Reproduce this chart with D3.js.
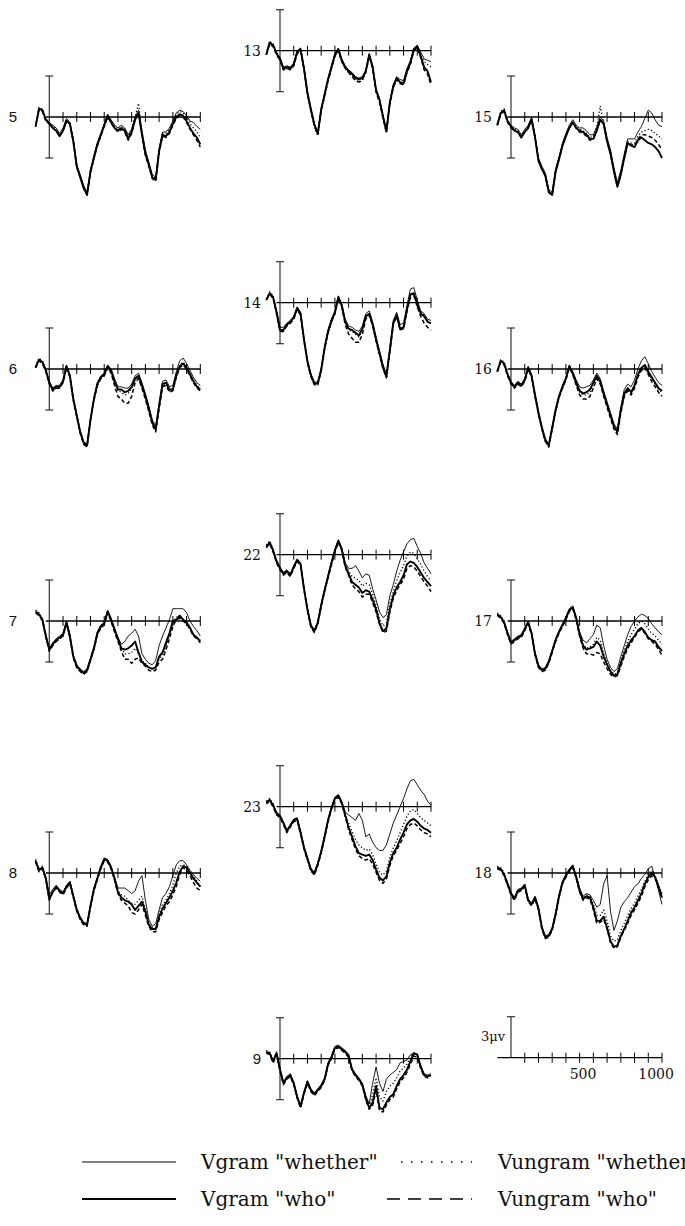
<!DOCTYPE html>
<html><head><meta charset="utf-8">
<script src="https://cdn.jsdelivr.net/npm/d3@7"></script>
<style>body{margin:0;background:#fff}svg{display:block}</style>
</head><body>
<svg id="c" width="685" height="1226"></svg>
<script>
// sample times (ms)
const times = [-100,-75,-50,-25,0,25,50,75,100,125,150,175,200,225,250,275,300,325,350,375,400,425,450,475,500,525,550,575,600,625,650,675,700,725,750,775,800,825,850,875,900,925,950,975,1000,1025,1050,1075,1100];
const xTicks = [100,200,300,400,500,600,700,800,900,1000,1100];
const scaleLabels = [500, 1000];
const seriesNames = ['Vgram "whether"','Vgram "who"','Vungram "whether"','Vungram "who"'];
// values in microvolts, negative plotted up (gw = Vgram whether, go = Vgram who, uw = Vungram whether, uo = Vungram who)
const e5_gw=[0.7,-0.6,-0.5,0.2,0.4,0.6,0.8,1.2,0.8,0.1,0.4,1.6,3.5,4.2,5.0,5.5,3.9,2.8,1.9,1.2,0.5,-0.2,0.2,0.6,0.8,0.6,0.8,1.3,0.9,0.0,-0.5,1.0,2.4,3.3,4.2,4.4,2.3,1.1,1.1,0.8,0.3,-0.3,-0.5,-0.4,-0.1,0.3,0.4,0.7,0.9];
const e5_go=[0.7,-0.6,-0.5,0.2,0.5,0.8,1.0,1.4,1.0,0.3,0.5,1.8,3.6,4.4,5.2,5.7,4.0,3.0,2.0,1.3,0.6,-0.1,0.4,0.8,1.0,0.8,1.0,1.6,1.1,0.2,-0.3,1.3,2.7,3.5,4.4,4.6,2.5,1.3,1.4,1.1,0.5,0.0,-0.2,-0.1,0.3,0.8,1.2,1.5,2.0];
const e5_uw=[0.6,-0.7,-0.6,0.1,0.4,0.7,0.9,1.3,0.9,0.2,0.4,1.7,3.6,4.3,5.1,5.6,3.8,2.9,2.1,1.4,0.7,0.0,0.3,0.6,0.9,0.7,0.9,1.4,0.9,0.0,-1.0,1.1,2.5,3.4,4.3,4.5,2.4,1.2,1.2,0.9,0.4,-0.2,-0.4,-0.3,0.0,0.5,0.8,1.1,1.5];
const e5_uo=[0.7,-0.5,-0.4,0.3,0.5,0.8,1.0,1.4,1.0,0.3,0.5,1.8,3.7,4.4,5.2,5.7,4.1,3.0,2.1,1.4,0.7,0.0,0.4,0.8,1.1,0.9,1.1,1.7,1.2,0.2,-0.3,1.3,2.8,3.6,4.5,4.7,2.6,1.4,1.5,1.2,0.6,0.1,-0.1,0.0,0.4,0.9,1.3,1.7,2.2];

const e13_gw=[0.3,-0.6,-0.4,0.2,0.5,1.2,1.1,1.2,0.9,0.0,-0.2,1.2,3.0,4.2,5.3,6.0,4.2,3.1,2.0,1.1,0.2,-0.2,0.6,1.1,1.4,1.6,1.9,2.0,1.9,1.4,0.2,1.1,2.8,3.5,4.7,5.8,3.7,2.5,1.9,2.1,2.2,1.3,0.7,-0.2,-0.4,0.1,0.6,0.7,0.8];
const e13_go=[0.3,-0.6,-0.4,0.2,0.6,1.3,1.2,1.3,1.0,0.1,-0.1,1.3,3.1,4.3,5.4,6.1,4.3,3.2,2.1,1.2,0.3,-0.1,0.7,1.2,1.5,1.7,2.0,2.1,2.0,1.5,0.3,1.2,2.9,3.6,4.8,5.9,3.8,2.6,2.0,2.3,2.4,1.5,0.9,-0.1,-0.3,0.4,1.2,1.5,2.3];
const e13_uw=[0.2,-0.7,-0.5,0.1,0.6,1.4,1.3,1.4,1.1,0.2,0.0,1.4,3.2,4.4,5.5,6.2,4.4,3.3,2.2,1.3,0.4,0.0,0.8,1.3,1.6,1.8,2.1,2.3,2.2,1.6,0.4,1.3,3.0,3.7,4.9,6.0,3.9,2.7,2.1,2.4,2.3,1.4,0.8,-0.1,-0.2,0.3,0.8,1.0,1.2];
const e13_uo=[0.3,-0.5,-0.3,0.3,0.7,1.4,1.3,1.4,1.1,0.2,0.0,1.4,3.2,4.4,5.5,6.1,4.4,3.3,2.2,1.3,0.4,0.0,0.8,1.3,1.6,1.9,2.2,2.3,2.1,1.6,0.4,1.3,3.0,3.8,4.9,6.0,3.9,2.7,2.1,2.4,2.5,1.6,1.0,0.0,-0.2,0.5,1.4,1.7,2.5];

const e15_gw=[0.6,-0.3,-0.5,0.3,0.6,0.8,0.9,1.3,0.9,0.6,0.0,1.3,3.0,3.6,4.1,5.3,5.5,3.8,2.9,1.9,1.2,0.6,0.2,0.6,0.8,0.8,1.0,1.3,1.3,0.7,0.0,0.3,1.5,2.4,3.7,4.8,3.9,2.7,1.6,1.6,1.6,1.1,0.7,0.1,-0.5,-0.3,0.2,0.6,0.7];
const e15_go=[0.6,-0.3,-0.5,0.3,0.7,1.0,1.1,1.5,1.1,0.8,0.2,1.5,3.2,3.8,4.3,5.5,5.7,4.0,3.1,2.1,1.4,0.8,0.4,0.8,1.0,1.1,1.3,1.6,1.6,1.0,0.2,0.5,1.8,2.7,4.0,5.1,4.2,3.0,1.9,2.1,2.2,1.7,1.5,1.7,1.9,2.0,2.2,2.5,3.0];
const e15_uw=[0.5,-0.4,-0.6,0.2,0.7,0.9,1.0,1.4,1.0,0.7,0.1,1.4,3.1,3.7,4.2,5.4,5.6,3.9,3.0,2.0,1.3,0.7,0.3,0.7,0.9,1.0,1.2,1.5,1.4,0.8,-0.8,0.4,1.7,2.6,3.9,5.0,4.1,2.9,1.8,1.9,1.9,1.4,1.1,1.0,0.9,1.0,1.2,1.4,1.6];
const e15_uo=[0.6,-0.2,-0.4,0.4,0.8,1.0,1.1,1.5,1.1,0.8,0.2,1.5,3.2,3.8,4.3,5.5,5.7,4.0,3.1,2.1,1.4,0.8,0.4,0.8,1.1,1.2,1.4,1.7,1.6,1.0,0.2,0.5,1.8,2.7,4.0,5.1,4.2,3.0,1.9,2.0,2.1,1.6,1.3,1.3,1.4,1.5,1.7,2.0,2.4];

const e6_gw=[-0.1,-0.7,-0.5,0.1,0.9,1.4,1.2,1.2,0.8,-0.3,0.4,2.1,3.3,4.5,5.3,5.5,3.6,2.1,1.0,0.5,0.3,-0.3,0.0,0.7,1.3,1.3,1.4,1.4,1.1,0.5,0.3,1.0,1.8,2.7,3.7,4.2,2.5,0.9,0.8,1.3,1.2,0.2,-0.6,-0.8,-0.4,0.1,0.6,1.0,1.2];
const e6_go=[-0.1,-0.7,-0.5,0.1,1.0,1.5,1.3,1.3,0.9,-0.2,0.5,2.2,3.4,4.6,5.4,5.6,3.7,2.2,1.1,0.6,0.4,-0.2,0.1,0.9,1.5,1.5,1.7,1.6,1.3,0.7,0.5,1.2,2.0,2.9,3.9,4.4,2.7,1.1,1.0,1.5,1.5,0.5,-0.2,-0.4,-0.1,0.4,0.9,1.3,1.5];
const e6_uw=[-0.2,-0.8,-0.6,0.0,1.0,1.6,1.4,1.4,1.0,-0.1,0.6,2.3,3.5,4.7,5.5,5.7,3.8,2.3,1.2,0.7,0.5,-0.1,0.2,1.0,1.6,1.7,1.9,1.8,1.4,0.8,0.6,1.3,2.1,3.0,4.0,4.5,2.8,1.2,1.1,1.6,1.4,0.4,-0.3,-0.5,-0.2,0.3,0.8,1.2,1.4];
const e6_uo=[-0.1,-0.6,-0.4,0.2,1.1,1.6,1.4,1.4,1.0,-0.1,0.6,2.3,3.5,4.7,5.5,5.7,3.8,2.3,1.2,0.7,0.5,-0.1,0.3,1.2,2.0,2.2,2.5,2.5,2.0,1.0,0.7,1.4,2.2,3.1,4.1,4.6,2.9,1.3,1.2,1.7,1.6,0.6,-0.1,-0.3,0.0,0.5,1.0,1.4,1.6];

const e14_gw=[-0.2,-0.7,-0.4,0.6,1.8,1.8,1.5,1.3,1.0,0.3,0.7,2.6,4.2,5.2,5.8,5.8,4.8,3.2,2.0,1.2,0.6,-0.5,0.1,1.2,1.7,1.8,2.0,2.1,1.7,0.8,0.6,1.4,2.5,3.5,4.5,5.2,3.3,1.3,0.7,1.6,1.5,0.2,-1.0,-1.1,-0.2,0.6,0.8,1.2,1.3];
const e14_go=[-0.2,-0.7,-0.4,0.7,2.0,2.0,1.6,1.4,1.1,0.4,0.8,2.7,4.3,5.3,5.9,5.9,4.9,3.3,2.1,1.3,0.7,-0.4,0.2,1.4,1.9,2.0,2.2,2.4,1.9,1.0,0.8,1.6,2.7,3.7,4.7,5.4,3.5,1.5,0.9,1.9,1.8,0.5,-0.6,-0.7,0.1,0.8,1.0,1.4,1.5];
const e14_uw=[-0.3,-0.8,-0.5,0.7,2.0,2.1,1.7,1.5,1.2,0.5,0.9,2.8,4.4,5.4,6.0,6.0,5.0,3.4,2.2,1.4,0.8,-0.3,0.3,1.4,2.0,2.1,2.3,2.5,2.0,1.1,0.9,1.7,2.8,3.8,4.8,5.5,3.6,1.6,1.0,2.0,1.9,0.6,-0.5,-0.6,0.2,0.7,0.9,1.3,1.6];
const e14_uo=[-0.2,-0.6,-0.3,0.8,2.1,2.1,1.7,1.5,1.2,0.5,0.9,2.8,4.4,5.4,6.0,6.0,5.0,3.4,2.2,1.4,0.8,-0.3,0.3,1.6,2.3,2.6,2.9,2.9,2.3,1.2,0.9,1.7,2.8,3.8,4.8,5.5,3.6,1.6,1.0,2.0,1.9,0.6,-0.4,-0.5,0.3,1.0,1.5,1.8,2.0];

const e16_gw=[0.2,-0.6,-0.4,0.4,0.9,1.2,0.9,1.1,0.7,-0.2,0.4,1.8,3.1,4.2,5.1,5.5,4.2,2.9,1.9,1.2,0.6,-0.3,0.2,0.8,1.3,1.4,1.3,1.2,0.8,0.3,0.7,1.6,2.4,3.2,4.0,4.4,2.8,1.5,1.1,1.3,0.8,0.0,-0.6,-0.9,-0.4,0.2,0.6,1.0,1.2];
const e16_go=[0.2,-0.6,-0.4,0.4,1.0,1.3,1.0,1.2,0.8,-0.1,0.5,1.9,3.2,4.3,5.2,5.6,4.3,3.0,2.0,1.3,0.7,-0.2,0.3,1.0,1.6,1.8,1.7,1.5,1.0,0.5,0.9,1.8,2.6,3.4,4.2,4.6,3.0,1.8,1.4,1.7,1.2,0.4,-0.1,-0.3,0.2,0.6,1.0,1.4,1.6];
const e16_uw=[0.1,-0.7,-0.5,0.3,1.0,1.4,1.1,1.3,0.9,0.0,0.6,2.0,3.3,4.4,5.3,5.7,4.4,3.1,2.1,1.4,0.8,-0.1,0.4,1.1,1.7,1.9,1.9,1.7,1.1,0.6,1.0,1.9,2.7,3.5,4.3,4.7,3.1,1.9,1.5,1.8,1.3,0.5,0.0,-0.2,0.3,0.7,1.1,1.5,1.7];
const e16_uo=[0.2,-0.5,-0.3,0.5,1.1,1.4,1.1,1.3,0.9,0.0,0.6,2.0,3.3,4.4,5.3,5.7,4.4,3.1,2.1,1.4,0.8,-0.1,0.4,1.2,1.9,2.2,2.2,2.0,1.4,0.7,1.1,2.0,2.8,3.6,4.4,4.8,3.2,2.0,1.6,1.9,1.4,0.6,0.1,-0.1,0.4,0.9,1.3,1.7,2.0];

const e7_gw=[-0.7,-0.5,-0.1,1.0,2.0,1.6,1.3,1.1,0.9,0.0,1.0,2.5,3.2,3.5,3.7,3.5,2.7,1.9,0.8,0.3,0.1,-0.8,-0.2,0.5,1.2,1.7,1.5,1.1,0.9,0.6,1.1,2.4,2.8,3.1,3.2,2.9,1.8,1.1,0.5,-0.1,-0.9,-0.9,-0.9,-0.9,-0.6,0.0,0.4,0.7,1.1];
const e7_go=[-0.7,-0.5,-0.1,1.1,2.1,1.7,1.4,1.2,1.0,0.1,1.1,2.6,3.3,3.6,3.8,3.6,2.8,2.0,0.9,0.4,0.2,-0.7,-0.1,0.6,1.3,2.0,2.1,2.0,1.8,1.5,2.3,3.0,3.2,3.4,3.5,3.4,2.6,2.3,1.6,0.9,0.0,-0.1,-0.4,-0.1,0.1,0.5,1.0,1.2,1.5];
const e7_uw=[-0.8,-0.6,-0.2,1.1,2.2,1.8,1.5,1.3,1.1,0.2,1.2,2.7,3.4,3.7,3.9,3.7,2.9,2.1,1.0,0.5,0.3,-0.6,0.0,0.7,1.4,2.0,2.4,2.4,2.3,2.0,2.4,2.9,3.1,3.4,3.5,3.4,2.8,2.5,1.8,1.1,0.2,-0.3,-0.3,-0.1,0.2,0.5,1.0,1.2,1.4];
const e7_uo=[-0.6,-0.4,0.0,1.2,2.2,1.8,1.5,1.3,1.1,0.2,1.2,2.7,3.4,3.7,3.9,3.7,2.9,2.1,1.0,0.5,0.3,-0.6,0.0,0.8,1.5,2.2,2.8,2.8,3.1,2.8,2.7,3.1,3.3,3.6,3.7,3.6,3.0,2.8,2.1,1.3,0.4,-0.1,-0.2,0.0,0.2,0.6,1.1,1.3,1.6];

const e22_gw=[-0.6,-0.9,-0.3,0.4,0.9,1.3,1.1,1.4,0.8,0.3,0.6,2.4,3.9,5.1,5.5,4.9,3.6,2.5,1.5,0.5,-0.4,-1.1,-0.5,0.6,1.0,1.0,0.8,1.2,1.7,1.4,1.5,2.5,3.3,4.2,4.6,4.4,3.0,2.2,1.2,0.4,-0.2,-0.8,-1.1,-1.2,-0.6,-0.1,0.6,1.0,1.4];
const e22_go=[-0.6,-0.9,-0.3,0.5,1.0,1.4,1.2,1.5,0.9,0.4,0.7,2.5,4.0,5.2,5.6,5.0,3.7,2.6,1.6,0.6,-0.3,-1.0,-0.4,0.8,1.4,2.0,2.2,2.4,2.8,2.6,2.7,3.3,4.0,5.0,5.6,5.4,4.0,3.0,2.4,2.0,1.5,0.7,0.5,0.6,0.9,1.3,1.7,2.0,2.3];
const e22_uw=[-0.7,-1.0,-0.4,0.5,1.0,1.4,1.2,1.5,0.9,0.4,0.7,2.5,4.0,5.2,5.6,5.0,3.7,2.6,1.6,0.6,-0.3,-1.0,-0.4,0.7,1.2,1.6,1.7,1.9,2.3,2.1,2.2,2.9,3.7,4.7,5.2,5.0,3.6,2.7,1.9,1.3,0.8,0.1,-0.2,-0.1,0.3,0.7,1.2,1.6,1.9];
const e22_uo=[-0.5,-0.8,-0.2,0.6,1.1,1.5,1.3,1.6,1.0,0.5,0.8,2.6,4.1,5.3,5.7,5.1,3.8,2.7,1.7,0.7,-0.2,-0.9,-0.3,0.9,1.5,2.2,2.5,2.7,3.1,2.9,2.9,3.5,4.2,5.1,5.7,5.6,4.2,3.2,2.6,2.2,1.8,1.0,0.8,0.9,1.2,1.6,2.0,2.3,2.7];

const e17_gw=[-0.5,-0.3,0.1,0.8,1.5,1.3,1.1,1.0,0.5,0.0,0.8,2.3,3.2,3.5,3.4,2.9,2.1,1.3,0.7,0.2,-0.3,-0.9,-1.1,-0.3,0.8,1.4,1.6,1.3,1.0,0.3,0.5,1.8,2.8,3.4,3.7,3.5,2.6,1.8,1.0,0.4,0.0,-0.3,-0.5,-0.4,-0.2,0.2,0.5,0.8,1.0];
const e17_go=[-0.5,-0.3,0.1,0.9,1.6,1.4,1.2,1.1,0.6,0.1,0.9,2.4,3.3,3.6,3.5,3.0,2.2,1.4,0.8,0.3,-0.2,-0.8,-1.0,-0.2,1.0,1.8,2.1,2.0,1.9,1.5,1.8,2.6,3.2,3.7,4.0,3.9,3.1,2.4,1.8,1.4,1.1,0.7,0.5,0.8,1.2,1.4,1.5,1.9,2.2];
const e17_uw=[-0.6,-0.4,0.0,0.9,1.6,1.4,1.2,1.1,0.6,0.1,0.9,2.4,3.3,3.6,3.5,3.0,2.2,1.4,0.8,0.3,-0.2,-0.8,-1.0,-0.2,0.9,1.7,2.0,1.9,1.7,1.2,1.4,2.4,3.1,3.6,3.9,3.8,2.9,2.1,1.5,1.0,0.6,0.2,0.0,0.2,0.6,0.9,1.1,1.4,1.7];
const e17_uo=[-0.4,-0.2,0.2,1.0,1.7,1.5,1.3,1.2,0.7,0.2,1.0,2.5,3.4,3.7,3.6,3.1,2.3,1.5,0.9,0.4,-0.1,-0.7,-0.9,-0.1,1.1,2.0,2.4,2.4,2.5,2.3,2.4,3.0,3.5,3.9,4.1,4.0,3.3,2.6,2.0,1.6,1.2,0.8,0.6,0.9,1.3,1.5,1.7,2.1,2.5];

const e8_gw=[-0.9,-0.2,-0.4,0.3,1.6,1.2,0.9,1.2,1.4,0.9,0.6,1.6,2.6,3.2,3.6,3.7,2.3,1.1,0.3,-0.5,-1.1,-1.0,-0.5,0.3,1.1,1.1,1.1,1.3,1.5,1.3,0.6,0.2,2.0,3.4,3.9,3.7,2.7,1.8,1.5,1.0,0.2,-0.6,-0.9,-0.9,-0.6,-0.2,0.1,0.4,0.6];
const e8_go=[-0.9,-0.2,-0.4,0.4,1.9,1.4,1.0,1.3,1.5,1.0,0.7,1.7,2.7,3.3,3.7,3.8,2.4,1.2,0.4,-0.4,-1.0,-0.9,-0.4,0.4,1.4,1.8,2.0,2.1,2.3,2.7,2.4,2.1,2.8,3.8,4.1,4.1,3.2,2.6,2.2,1.8,1.3,0.7,-0.1,-0.5,-0.4,0.0,0.4,0.7,1.0];
const e8_uw=[-1.0,-0.3,-0.5,0.4,1.8,1.3,1.0,1.3,1.5,1.0,0.7,1.7,2.7,3.3,3.7,3.8,2.4,1.2,0.4,-0.4,-1.0,-0.9,-0.4,0.4,1.3,1.6,1.7,2.0,2.2,2.3,2.0,1.7,2.7,3.7,4.0,4.0,3.0,2.3,2.0,1.5,0.9,0.0,-0.5,-0.6,-0.5,-0.1,0.2,0.6,1.0];
const e8_uo=[-0.8,-0.1,-0.3,0.5,2.0,1.4,1.1,1.4,1.6,1.1,0.8,1.8,2.8,3.4,3.8,3.9,2.5,1.3,0.5,-0.3,-0.9,-0.8,-0.3,0.5,1.5,2.0,2.2,2.4,2.9,3.0,2.7,2.3,3.1,3.9,4.3,4.3,3.4,2.9,2.4,2.1,1.6,1.0,0.1,-0.4,-0.2,0.2,0.7,1.1,1.3];

const e23_gw=[-0.3,-0.5,-0.1,0.4,0.6,1.1,1.7,1.3,0.9,0.8,1.8,2.9,3.7,4.5,4.8,4.1,3.2,2.1,0.9,0.0,-0.7,-0.9,-0.4,0.4,0.6,0.8,1.0,0.5,1.0,2.2,2.0,2.6,3.0,3.2,3.2,2.8,2.0,1.2,0.6,0.0,-0.6,-1.3,-1.9,-2.0,-1.6,-1.2,-0.9,-0.4,-0.1];
const e23_go=[-0.3,-0.5,-0.1,0.5,0.7,1.2,1.8,1.4,1.0,0.9,1.9,3.0,3.8,4.6,4.9,4.2,3.3,2.2,1.0,0.1,-0.6,-0.8,-0.3,0.6,1.5,2.2,2.9,3.4,3.5,3.6,3.5,3.9,4.6,5.2,5.4,5.1,4.1,3.4,3.0,2.4,1.9,1.3,1.0,0.9,1.1,1.4,1.6,1.7,1.9];
const e23_uw=[-0.4,-0.6,-0.2,0.5,0.7,1.2,1.8,1.4,1.0,0.9,1.9,3.0,3.8,4.6,4.9,4.2,3.3,2.2,1.0,0.1,-0.6,-0.8,-0.3,0.6,1.2,1.8,2.4,2.8,3.0,3.2,3.1,3.5,4.2,4.8,5.0,4.7,3.7,3.0,2.5,1.9,1.3,0.7,0.3,0.2,0.5,0.8,1.0,1.2,1.4];
const e23_uo=[-0.2,-0.4,0.0,0.6,0.8,1.3,1.9,1.5,1.1,1.0,2.0,3.1,3.9,4.7,5.0,4.3,3.4,2.3,1.1,0.2,-0.5,-0.7,-0.2,0.7,1.7,2.4,3.1,3.6,3.8,3.9,3.8,4.2,4.8,5.4,5.6,5.3,4.3,3.6,3.2,2.7,2.2,1.6,1.3,1.2,1.4,1.7,1.9,2.0,2.2];

const e18_gw=[-0.4,-0.3,0.1,0.7,1.4,1.8,1.2,1.1,0.8,1.9,2.2,1.7,2.5,3.9,4.6,4.5,4.0,2.9,1.6,0.6,0.1,-0.3,-0.6,0.2,1.1,1.7,1.5,1.6,2.0,2.5,2.3,0.8,0.2,2.8,4.2,3.5,2.5,2.1,1.8,1.4,1.0,0.8,0.4,0.1,-0.3,-0.5,0.3,1.3,2.3];
const e18_go=[-0.4,-0.3,0.1,0.8,1.5,1.9,1.3,1.2,0.9,2.0,2.3,1.8,2.6,4.0,4.7,4.6,4.1,3.0,1.7,0.7,0.2,-0.2,-0.5,0.3,1.3,1.9,1.7,1.8,2.5,3.5,3.5,3.2,4.0,5.0,5.4,5.3,4.6,4.1,3.5,2.9,2.5,2.0,1.5,0.8,0.3,0.0,0.3,1.0,1.8];
const e18_uw=[-0.5,-0.4,0.0,0.8,1.5,1.9,1.3,1.2,0.9,2.0,2.3,1.8,2.6,4.0,4.7,4.6,4.1,3.0,1.7,0.7,0.2,-0.2,-0.5,0.3,1.2,1.8,1.6,1.7,2.3,3.1,3.1,2.7,3.5,4.6,5.0,4.9,4.2,3.7,3.1,2.6,2.2,1.7,1.2,0.6,0.1,-0.2,0.2,0.9,1.5];
const e18_uo=[-0.3,-0.2,0.2,0.9,1.6,2.0,1.4,1.3,1.0,2.1,2.4,1.9,2.7,4.1,4.8,4.7,4.2,3.1,1.8,0.8,0.3,-0.1,-0.4,0.4,1.4,2.0,1.8,1.9,2.7,3.7,3.6,3.4,4.1,5.1,5.5,5.4,4.7,4.2,3.7,3.1,2.7,2.2,1.7,1.0,0.5,0.2,0.4,1.1,1.6];

const e9_gw=[-0.5,-0.4,0.2,-0.4,0.7,1.7,1.3,1.1,1.7,2.7,3.4,2.4,1.6,2.2,2.5,2.2,1.9,1.4,0.3,-0.2,-0.9,-1.0,-0.8,-0.6,-0.3,0.7,1.1,1.4,1.8,2.7,3.3,1.8,0.6,1.8,2.4,1.5,1.2,1.0,0.8,0.3,0.2,0.1,-0.3,-0.4,-0.3,0.5,1.1,1.2,1.1];
const e9_go=[-0.5,-0.4,0.2,-0.4,0.8,1.8,1.4,1.2,1.8,2.8,3.5,2.5,1.7,2.3,2.6,2.3,2.0,1.5,0.4,-0.1,-0.8,-0.9,-0.7,-0.5,-0.2,0.8,1.2,1.5,1.9,2.9,3.6,3.2,2.0,3.6,3.7,3.2,2.8,2.6,2.0,1.5,1.2,0.8,0.2,-0.4,-0.3,0.6,1.2,1.3,1.2];
const e9_uw=[-0.6,-0.5,0.1,-0.5,0.8,1.8,1.4,1.2,1.8,2.8,3.5,2.5,1.7,2.3,2.6,2.3,2.0,1.5,0.4,-0.1,-0.8,-0.9,-0.7,-0.5,-0.2,0.8,1.2,1.5,1.9,2.9,3.5,2.6,1.4,2.8,3.1,2.4,2.0,1.8,1.4,0.9,0.7,0.4,-0.1,-0.4,-0.3,0.6,1.2,1.3,1.2];
const e9_uo=[-0.4,-0.3,0.3,-0.3,0.9,1.9,1.5,1.3,1.9,2.9,3.6,2.6,1.8,2.4,2.7,2.4,2.1,1.6,0.5,0.0,-0.7,-0.8,-0.6,-0.4,-0.1,0.9,1.3,1.6,2.0,3.0,3.7,3.4,2.3,3.8,3.9,3.4,3.0,2.8,2.2,1.7,1.4,1.0,0.4,-0.2,-0.1,0.7,1.3,1.4,1.3];

// ---- layout ----
const colX = [49.3, 280, 511];
const rowStep = 252;
const sideTop = 117, midTop = 50.7;
const panels = [
  {label:"5", col:0,row:0,data:[e5_gw,e5_go,e5_uw,e5_uo]},
  {label:"6", col:0,row:1,data:[e6_gw,e6_go,e6_uw,e6_uo]},
  {label:"7", col:0,row:2,data:[e7_gw,e7_go,e7_uw,e7_uo]},
  {label:"8", col:0,row:3,data:[e8_gw,e8_go,e8_uw,e8_uo]},
  {label:"13",col:1,row:0,data:[e13_gw,e13_go,e13_uw,e13_uo]},
  {label:"14",col:1,row:1,data:[e14_gw,e14_go,e14_uw,e14_uo]},
  {label:"22",col:1,row:2,data:[e22_gw,e22_go,e22_uw,e22_uo]},
  {label:"23",col:1,row:3,data:[e23_gw,e23_go,e23_uw,e23_uo]},
  {label:"9", col:1,row:4,data:[e9_gw,e9_go,e9_uw,e9_uo]},
  {label:"15",col:2,row:0,data:[e15_gw,e15_go,e15_uw,e15_uo]},
  {label:"16",col:2,row:1,data:[e16_gw,e16_go,e16_uw,e16_uo]},
  {label:"17",col:2,row:2,data:[e17_gw,e17_go,e17_uw,e17_uo]},
  {label:"18",col:2,row:3,data:[e18_gw,e18_go,e18_uw,e18_uo]}
];
// styles: thin solid, thick solid, dotted, dashed
const styles = [
  {w:0.9, dash:null},
  {w:1.9, dash:null},
  {w:1.3, dash:"1.2,2.2"},
  {w:1.5, dash:"4,2.5"}
];
const drawOrder = [2,3,0,1];

const svg = d3.select("#c");
const PX_PER_3UV = 41;
const AX_LEN = 151;

function frame(g, y, base, bx, withBottom){
  const yTop = y(-3), yBot = y(3);
  g.append("line").attr("x1",bx).attr("x2",bx).attr("y1",yTop).attr("y2",withBottom?yBot:base)
    .attr("stroke","#333").attr("stroke-width",1.2);
  g.append("line").attr("x1",bx-4).attr("x2",bx+4).attr("y1",yTop).attr("y2",yTop).attr("stroke","#333").attr("stroke-width",1.2);
  if(withBottom) g.append("line").attr("x1",bx-4).attr("x2",bx+4).attr("y1",yBot).attr("y2",yBot).attr("stroke","#333").attr("stroke-width",1.2);
}

panels.forEach(p=>{
  const bx = colX[p.col];
  const base = (p.col===1 ? midTop : sideTop) + p.row*rowStep;
  const x = d3.scaleLinear().domain([0,1100]).range([bx, bx+AX_LEN]);
  const y = d3.scaleLinear().domain([-3,3]).range([base-PX_PER_3UV, base+PX_PER_3UV]);
  const g = svg.append("g");
  frame(g,y,base,bx,true);
  g.append("line").attr("x1",x(-25)).attr("x2",x(1100)).attr("y1",base).attr("y2",base)
    .attr("stroke","#000").attr("stroke-width",1.3);
  g.selectAll("line.tk").data(xTicks).join("line").attr("class","tk")
    .attr("x1",d=>x(d)).attr("x2",d=>x(d)).attr("y1",base-5).attr("y2",base+5)
    .attr("stroke","#000").attr("stroke-width",1);
  const line = d3.line().defined((d,i)=>i<times.length && d!=null)
    .x((d,i)=>x(times[i])).y(d=>y(d)).curve(d3.curveLinear);
  drawOrder.forEach(si=>{
    const st = styles[si];
    g.append("path").attr("d", line(p.data[si])).attr("fill","none")
      .attr("stroke","#000").attr("stroke-width",st.w)
      .attr("stroke-dasharray",st.dash).attr("stroke-linejoin","round");
  });
  const single = p.label.length===1;
  g.append("text")
    .attr("x", p.col===0 ? 13 : bx-19)
    .attr("y", base+5)
    .attr("text-anchor", p.col===0 ? "middle" : "end")
    .attr("font-family", single ? "Liberation Sans, Arial, sans-serif" : "DejaVu Serif, serif")
    .attr("font-size", single ? 15 : 14)
    .attr("fill","#111").text(p.label);
});

// scale panel (bottom right, beside electrode 9)
{
  const bx = colX[2], base = midTop + 4*rowStep - 1;
  const x = d3.scaleLinear().domain([0,1100]).range([bx, bx+AX_LEN]);
  const y = d3.scaleLinear().domain([-3,3]).range([base-PX_PER_3UV, base+PX_PER_3UV]);
  const g = svg.append("g");
  frame(g,y,base,bx,false);
  g.append("line").attr("x1",x(-100)).attr("x2",x(1100)).attr("y1",base).attr("y2",base).attr("stroke","#000").attr("stroke-width",1.2);
  g.selectAll("line.tk").data(xTicks).join("line").attr("class","tk")
    .attr("x1",d=>x(d)).attr("x2",d=>x(d)).attr("y1",base-5).attr("y2",base+5).attr("stroke","#000");
  g.selectAll("text.tl").data(scaleLabels).join("text").attr("class","tl")
    .attr("x",d=>x(d)-10).attr("y",base+21).attr("text-anchor","start")
    .attr("font-family","DejaVu Serif, serif").attr("font-size",14).attr("fill","#111").text(d=>d);
  g.append("text").attr("x",bx-6).attr("y",y(-1.5)+4).attr("text-anchor","end")
    .attr("font-family","DejaVu Serif, serif").attr("font-size",13).attr("fill","#111").text("3\u03bcv");
}

// legend
const legend = [
  {si:0, lx1:82, lx2:176, tx:201, y:1162},
  {si:1, lx1:82, lx2:176, tx:201, y:1199},
  {si:2, lx1:401, lx2:472, tx:498, y:1162},
  {si:3, lx1:387, lx2:472, tx:498, y:1199}
];
const lg = svg.append("g");
legend.forEach(l=>{
  lg.append("line").attr("x1",l.lx1).attr("x2",l.lx2).attr("y1",l.y).attr("y2",l.y)
    .attr("stroke","#000").attr("stroke-width", l.si===1?2:(l.si===0?1:1.4))
    .attr("stroke-dasharray", l.si===2?"1.5,8.5":(l.si===3?"13,8":null));
  lg.append("text").attr("x",l.tx).attr("y",l.y+7).attr("font-family","DejaVu Serif, serif")
    .attr("font-size",20).attr("fill","#111").text(seriesNames[l.si]);
});
</script>
</body></html>
